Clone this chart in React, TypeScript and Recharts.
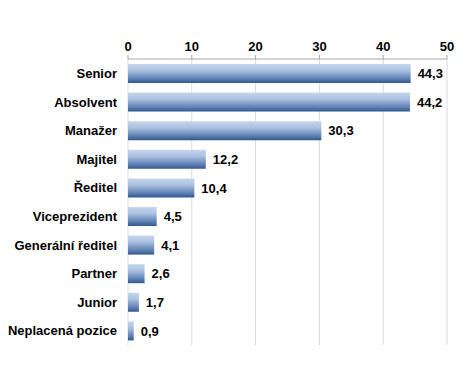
import React from "react";
import { BarChart, Bar, XAxis, YAxis, CartesianGrid, LabelList } from "recharts";

const categories = [
  "Senior",
  "Absolvent",
  "Manažer",
  "Majitel",
  "Ředitel",
  "Viceprezident",
  "Generální ředitel",
  "Partner",
  "Junior",
  "Neplacená pozice",
];
const values = [44.3, 44.2, 30.3, 12.2, 10.4, 4.5, 4.1, 2.6, 1.7, 0.9];
const xTicks = [0, 10, 20, 30, 40, 50];
const boundaryTicks = [0, 1, 2, 3, 4, 5, 6, 7, 8, 9, 10];

const data = categories.map((name, i) => ({ name, value: values[i] }));

const FONT = "'Liberation Sans', Arial, sans-serif";

export default function App() {
  return (
    <div style={{ width: 469, height: 391 }}>
      <style>{`body{margin:0;}`}</style>
      <BarChart
        width={469}
        height={391}
        data={data}
        layout="vertical"
        margin={{ top: 29, right: 22, bottom: 46, left: 8 }}
      >
        <defs>
          <linearGradient id="barGrad" x1="0" y1="0" x2="0" y2="1">
            <stop offset="0%" stopColor="#c6d7ed" />
            <stop offset="35%" stopColor="#a9c0df" />
            <stop offset="75%" stopColor="#6384b6" />
            <stop offset="100%" stopColor="#32588f" />
          </linearGradient>
        </defs>
        <CartesianGrid horizontal={false} stroke="#d9d9d9" />
        <XAxis
          type="number"
          orientation="top"
          domain={[0, 50]}
          ticks={xTicks}
          height={30}
          tickSize={4}
          tickMargin={4}
          axisLine={{ stroke: "#a6a6a6" }}
          tickLine={{ stroke: "#a6a6a6" }}
          tick={{ fill: "#000", fontSize: 13, fontWeight: "bold", fontFamily: FONT }}
        />
        <YAxis
          yAxisId="grid"
          type="number"
          domain={[0, 10]}
          ticks={boundaryTicks}
          width={0}
          tick={false}
          tickSize={4}
          axisLine={{ stroke: "#bfbfbf", strokeWidth: 3 }}
          tickLine={{ stroke: "#a6a6a6" }}
        />
        <YAxis
          type="category"
          dataKey="name"
          width={120}
          tickSize={0}
          tickMargin={11}
          axisLine={false}
          tickLine={false}
          tick={{ fill: "#000", fontSize: 13, fontWeight: "bold", fontFamily: FONT }}
        />
        <Bar dataKey="value" barSize={19} fill="url(#barGrad)" isAnimationActive={false}>
          <LabelList
            dataKey="value"
            position="right"
            offset={7}
            formatter={(v: any) => String(v).replace(".", ",")}
            style={{ fill: "#000", fontSize: 13, fontWeight: "bold", fontFamily: FONT }}
          />
        </Bar>
      </BarChart>
    </div>
  );
}
